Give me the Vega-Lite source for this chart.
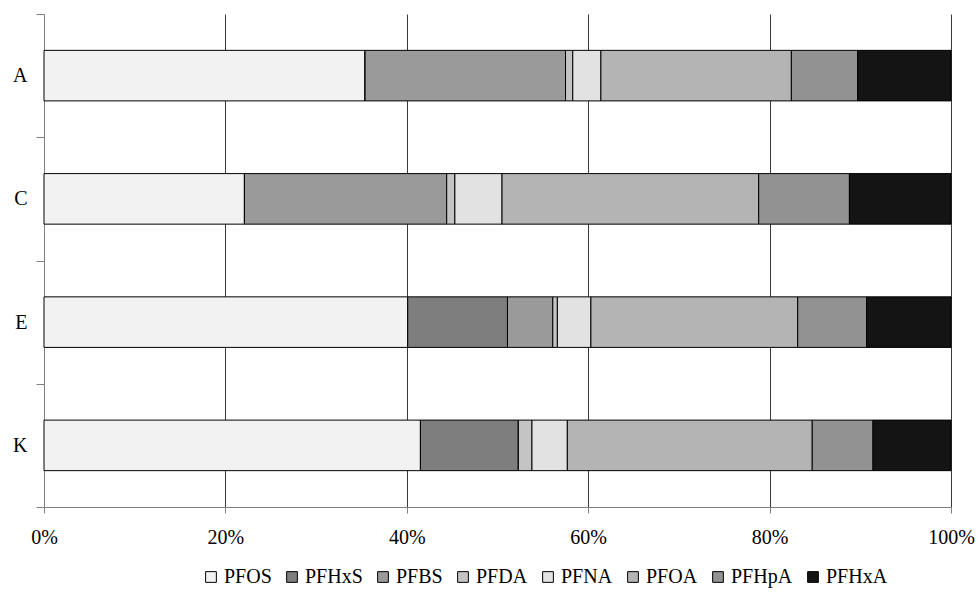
{
  "$schema": "https://vega.github.io/schema/vega-lite/v6.json",
  "autosize": "none",
  "width": 907,
  "height": 493,
  "padding": {"left": 44, "top": 14, "right": 29, "bottom": 91},
  "background": "white",
  "config": {
    "view": {"stroke": null},
    "font": "Liberation Serif",
    "axis": {"labelFont": "Liberation Serif", "labelFontSize": 20, "labelColor": "#000", "domainColor": "#808080", "tickColor": "#808080"},
    "legend": {"labelFont": "Liberation Serif", "labelFontSize": 20, "labelColor": "#000"}
  },
  "data": {
    "values": [
      {"site": "A", "compound": "PFOS", "o": 1, "pct": 35.4},
      {"site": "A", "compound": "PFHxS", "o": 2, "pct": 0},
      {"site": "A", "compound": "PFBS", "o": 3, "pct": 22.1},
      {"site": "A", "compound": "PFDA", "o": 4, "pct": 0.8},
      {"site": "A", "compound": "PFNA", "o": 5, "pct": 3.1},
      {"site": "A", "compound": "PFOA", "o": 6, "pct": 21.0},
      {"site": "A", "compound": "PFHpA", "o": 7, "pct": 7.3},
      {"site": "A", "compound": "PFHxA", "o": 8, "pct": 10.3},
      {"site": "C", "compound": "PFOS", "o": 1, "pct": 22.1},
      {"site": "C", "compound": "PFHxS", "o": 2, "pct": 0},
      {"site": "C", "compound": "PFBS", "o": 3, "pct": 22.3},
      {"site": "C", "compound": "PFDA", "o": 4, "pct": 0.9},
      {"site": "C", "compound": "PFNA", "o": 5, "pct": 5.2},
      {"site": "C", "compound": "PFOA", "o": 6, "pct": 28.3},
      {"site": "C", "compound": "PFHpA", "o": 7, "pct": 10.0},
      {"site": "C", "compound": "PFHxA", "o": 8, "pct": 11.2},
      {"site": "E", "compound": "PFOS", "o": 1, "pct": 40.1},
      {"site": "E", "compound": "PFHxS", "o": 2, "pct": 11.0},
      {"site": "E", "compound": "PFBS", "o": 3, "pct": 5.0},
      {"site": "E", "compound": "PFDA", "o": 4, "pct": 0.5},
      {"site": "E", "compound": "PFNA", "o": 5, "pct": 3.7},
      {"site": "E", "compound": "PFOA", "o": 6, "pct": 22.8},
      {"site": "E", "compound": "PFHpA", "o": 7, "pct": 7.6},
      {"site": "E", "compound": "PFHxA", "o": 8, "pct": 9.3},
      {"site": "K", "compound": "PFOS", "o": 1, "pct": 41.5},
      {"site": "K", "compound": "PFHxS", "o": 2, "pct": 10.8},
      {"site": "K", "compound": "PFBS", "o": 3, "pct": 0},
      {"site": "K", "compound": "PFDA", "o": 4, "pct": 1.5},
      {"site": "K", "compound": "PFNA", "o": 5, "pct": 3.9},
      {"site": "K", "compound": "PFOA", "o": 6, "pct": 27.0},
      {"site": "K", "compound": "PFHpA", "o": 7, "pct": 6.7},
      {"site": "K", "compound": "PFHxA", "o": 8, "pct": 8.6}
    ]
  },
  "mark": {"type": "bar", "stroke": "#000", "strokeWidth": 1, "height": {"band": 0.41}},
  "encoding": {
    "y": {
      "field": "site", "type": "nominal", "title": null,
      "scale": {"paddingInner": 0, "paddingOuter": 0},
      "axis": {"tickBand": "extent", "tickSize": 8, "labelPadding": 9, "labelFontSize": 20}
    },
    "x": {
      "field": "pct", "type": "quantitative", "stack": "normalize", "title": null,
      "scale": {"domain": [0, 1], "nice": false},
      "axis": {"format": "%", "values": [0, 0.2, 0.4, 0.6, 0.8, 1], "grid": true, "gridColor": "#3a3a3a", "gridOpacity": 1, "tickSize": 6, "labelPadding": 14, "labelFlush": false, "labelFontSize": 20}
    },
    "fill": {
      "field": "compound", "type": "nominal",
      "scale": {
        "domain": ["PFOS", "PFHxS", "PFBS", "PFDA", "PFNA", "PFOA", "PFHpA", "PFHxA"],
        "range": ["#f2f2f2", "#7e7e7e", "#9a9a9a", "#c4c4c4", "#e2e2e2", "#b4b4b4", "#929292", "#141414"]
      },
      "legend": {"orient": "none", "legendX": 157, "legendY": 553, "direction": "horizontal", "title": null, "symbolType": "square", "symbolSize": 115, "symbolStrokeColor": "#000", "symbolStrokeWidth": 1, "labelOffset": 3, "columnPadding": 10, "labelFontSize": 20}
    },
    "order": {"field": "o", "type": "quantitative"}
  }
}
